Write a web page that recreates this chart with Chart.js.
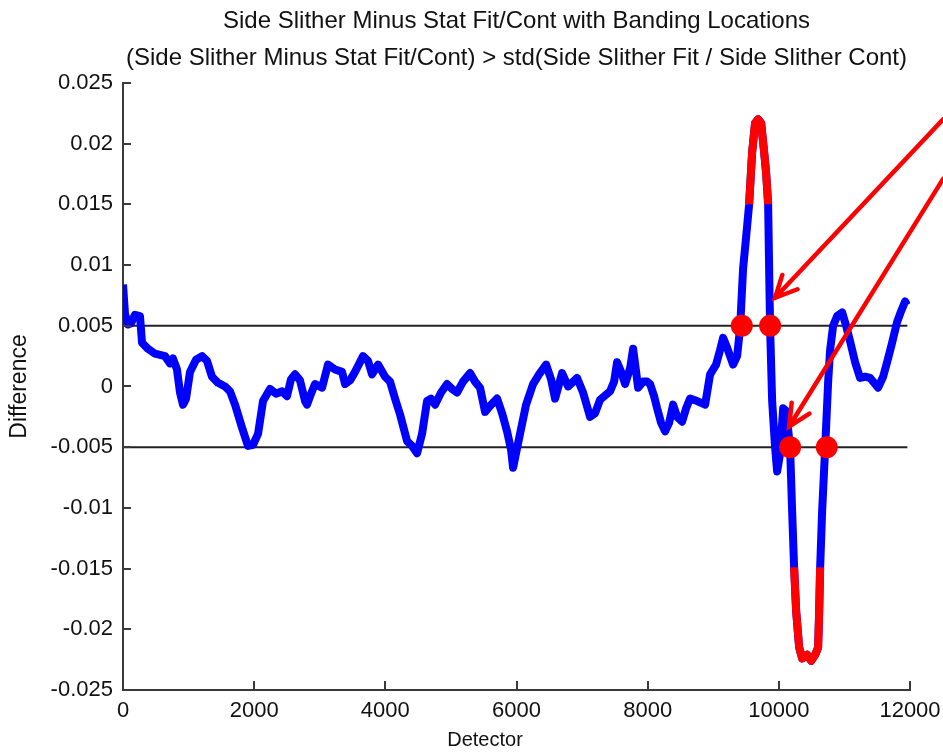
<!DOCTYPE html>
<html>
<head>
<meta charset="utf-8">
<script src="https://cdn.jsdelivr.net/npm/chart.js@4/dist/chart.umd.min.js"></script>
<style>
html, body { margin: 0; padding: 0; background: #fff; }
</style>
</head>
<body>
<canvas id="myChart" width="943" height="752"></canvas>
<script>
// values
const detector = [0, 30, 76, 122, 183, 259, 290, 381, 488, 640, 717, 762, 823, 869, 915, 961, 1022, 1113, 1205, 1281,
  1357, 1449, 1555, 1632, 1708, 1815, 1906, 1983, 2059, 2135, 2242, 2333, 2425, 2501, 2562, 2623, 2699, 2776, 2806, 2867,
  2928, 3035, 3126, 3233, 3340, 3386, 3462, 3538, 3660, 3736, 3797, 3889, 3996, 4072, 4148, 4224, 4331, 4407, 4484, 4560,
  4636, 4697, 4758, 4850, 4941, 5017, 5094, 5185, 5292, 5368, 5444, 5521, 5597, 5704, 5780, 5856, 5917, 5948, 5993, 6054,
  6146, 6253, 6344, 6451, 6527, 6588, 6695, 6786, 6924, 7015, 7122, 7198, 7274, 7427, 7488, 7534, 7610, 7656, 7732, 7778,
  7824, 7854, 7930, 7991, 8037, 8098, 8144, 8205, 8266, 8327, 8388, 8449, 8525, 8586, 8647, 8754, 8876, 8952, 9043, 9104,
  9150, 9211, 9303, 9364, 9409, 9455, 9501, 9547, 9593, 9638, 9684, 9730, 9776, 9806, 9837, 9852, 9867, 9898, 9943,
  9974, 10020, 10066, 10112, 10172, 10203, 10233, 10264, 10310, 10356, 10432, 10493, 10554, 10599, 10615, 10630, 10660, 10706, 10752, 10782, 10828,
  10889, 10965, 11026, 11087, 11163, 11239, 11316, 11392, 11468, 11514, 11590, 11651, 11727, 11803, 11864, 11925, 11956];
const difference = [0.0084, 0.006, 0.0051, 0.0052, 0.0059, 0.0058, 0.0036, 0.0031, 0.0027, 0.0025, 0.0019, 0.0023, 0.0014, -0.0005, -0.0015, -0.001, 0.0012, 0.0022, 0.0025, 0.0021,
  0.0008, 0.0003, 0.0, -0.0004, -0.0015, -0.0034, -0.0049, -0.0048, -0.0039, -0.0012, -0.0002, -0.0006, -0.0004, -0.0008, 0.0006, 0.001, 0.0005, -0.0012, -0.0015, -0.0006,
  0.0002, -0.0001, 0.0018, 0.0014, 0.0012, 0.0002, 0.0005, 0.0012, 0.0025, 0.0021, 0.001, 0.0018, 0.0008, 0.0004, -0.001, -0.0023, -0.0045, -0.0049, -0.0055, -0.0039,
  -0.0012, -0.001, -0.0015, -0.0005, 0.0002, -0.0002, -0.0005, 0.0004, 0.0011, 0.0004, -0.0001, -0.0021, -0.0016, -0.001, -0.0022, -0.0037, -0.0052, -0.0067, -0.0055, -0.0039,
  -0.0015, 0.0002, 0.001, 0.0018, 0.0006, -0.001, 0.0011, 0.0, 0.0007, -0.0005, -0.0025, -0.0022, -0.0011, -0.0004, 0.0004, 0.002, 0.001, 0.0002, 0.0015, 0.0031,
  0.0012, -0.0001, 0.0004, 0.0004, 0.0002, -0.0008, -0.0018, -0.003, -0.0037, -0.003, -0.0015, -0.0025, -0.0029, -0.0018, -0.001, -0.0012, -0.0015, 0.001, 0.0018, 0.003,
  0.004, 0.0032, 0.0018, 0.0025, 0.0048, 0.0097, 0.0123, 0.015, 0.0193, 0.0217, 0.022, 0.0217, 0.0193, 0.0176, 0.015, 0.0097, 0.0048, -0.0012, -0.005,
  -0.007, -0.0055, -0.0018, -0.002, -0.0051, -0.0103, -0.0149, -0.0185, -0.0215, -0.0224, -0.0221, -0.0226, -0.0221, -0.0215, -0.0185, -0.0149, -0.0103, -0.0051, 0.0004, 0.003, 0.005,
  0.0058, 0.0061, 0.005, 0.0037, 0.002, 0.0007, 0.0008, 0.0007, 0.0002, -0.0001, 0.0008, 0.002, 0.0036, 0.0053, 0.0062, 0.007, 0.0067];

const stdLimit = 0.005;
const bandLimit = 0.0149;
const lineEnd = 11960;

const bandX = [9435, 9867, 10172, 10731];
const bandY = [0.005, 0.005, -0.005, -0.005];

const arrowTipX = [9943, 10157];
const arrowTipY = [0.0073, -0.0033];
const arrowTailX = [12505, 12505];
const arrowTailY = [0.022, 0.0171];

const xTicks = [0, 2000, 4000, 6000, 8000, 10000, 12000];
const yTicks = [-0.025, -0.02, -0.015, -0.01, -0.005, 0, 0.005, 0.01, 0.015, 0.02, 0.025];
const yTickLabels = ['-0.025', '-0.02', '-0.015', '-0.01', '-0.005', '0', '0.005', '0.01', '0.015', '0.02', '0.025'];

const titleLines = ['Side Slither Minus Stat Fit/Cont with Banding Locations',
  '(Side Slither Minus Stat Fit/Cont) > std(Side Slither Fit / Side Slither Cont)'];
const xLabel = 'Detector';
const xLabelAt = 5520;   // where the reference centres its x label

const FONT = "'Liberation Sans', Arial, sans-serif";

var mainPts = detector.map((d, i) => ({x: d, y: difference[i]}));
var redPts = detector.map((d, i) => ({x: d, y: Math.abs(difference[i]) >= bandLimit ? difference[i] : null}));
var dotPts = bandX.map((d, i) => ({x: d, y: bandY[i]}));

// MATLAB style tick marks pointing into the plot, plus x label
const innerTicks = {
  id: 'innerTicks',
  afterDraw(chart) {
    const ctx = chart.ctx;
    const a = chart.chartArea;
    const xs = chart.scales.x, ys = chart.scales.y;
    ctx.save();
    ctx.strokeStyle = '#3a3a3a';
    ctx.lineWidth = 2;
    ctx.beginPath();
    xTicks.forEach(t => {
      const px = Math.round(xs.getPixelForValue(t));
      ctx.moveTo(px, a.bottom);
      ctx.lineTo(px, a.bottom - 9);
    });
    yTicks.forEach(t => {
      const py = Math.round(ys.getPixelForValue(t));
      ctx.moveTo(a.left, py);
      ctx.lineTo(a.left + 8, py);
    });
    ctx.stroke();

    ctx.fillStyle = '#111';
    ctx.font = '20px ' + FONT;
    ctx.textAlign = 'center';
    ctx.textBaseline = 'middle';
    ctx.fillText(xLabel, xs.getPixelForValue(xLabelAt), 740);
    ctx.restore();
  }
};

// red annotation arrows
const arrows = {
  id: 'arrows',
  afterDraw(chart) {
    const ctx = chart.ctx;
    const xs = chart.scales.x, ys = chart.scales.y;
    ctx.save();
    ctx.strokeStyle = '#ff0000';
    ctx.lineWidth = 4.5;
    ctx.lineCap = 'round';
    for (let i = 0; i < arrowTipX.length; i++) {
      const x1 = xs.getPixelForValue(arrowTailX[i]), y1 = ys.getPixelForValue(arrowTailY[i]);
      const x2 = xs.getPixelForValue(arrowTipX[i]), y2 = ys.getPixelForValue(arrowTipY[i]);
      const ang = Math.atan2(y2 - y1, x2 - x1);
      const head = 24;
      ctx.beginPath();
      ctx.moveTo(x1, y1);
      ctx.lineTo(x2, y2);
      ctx.moveTo(x2 - head * Math.cos(ang - 0.45), y2 - head * Math.sin(ang - 0.45));
      ctx.lineTo(x2, y2);
      ctx.lineTo(x2 - head * Math.cos(ang + 0.45), y2 - head * Math.sin(ang + 0.45));
      ctx.stroke();
    }
    ctx.restore();
  }
};

var ctx = document.getElementById('myChart').getContext('2d');
var chart = new Chart(ctx, {
  type: 'line',
  data: {
    datasets: [
      {
        label: 'band',
        type: 'scatter',
        data: dotPts,
        pointRadius: 11,
        pointBackgroundColor: '#ff0000',
        pointBorderWidth: 0,
        order: 0
      },
      {
        label: 'over',
        data: redPts,
        borderColor: '#ff0000',
        borderWidth: 8,
        borderJoinStyle: 'round',
        pointRadius: 0,
        spanGaps: false,
        order: 1
      },
      {
        label: 'difference',
        data: mainPts,
        borderColor: '#0000ff',
        borderWidth: 8,
        borderJoinStyle: 'round',
        pointRadius: 0,
        order: 2
      },
      {
        label: 'upper',
        data: [{x: 0, y: stdLimit}, {x: lineEnd, y: stdLimit}],
        borderColor: '#222222',
        borderWidth: 2,
        pointRadius: 0,
        order: 3
      },
      {
        label: 'lower',
        data: [{x: 0, y: -stdLimit}, {x: lineEnd, y: -stdLimit}],
        borderColor: '#222222',
        borderWidth: 2,
        pointRadius: 0,
        order: 3
      }
    ]
  },
  options: {
    responsive: false,
    animation: false,
    layout: { padding: { left: 0, right: 33, top: 0, bottom: 0 } },
    plugins: {
      legend: { display: false },
      tooltip: { enabled: false },
      title: {
        display: true,
        fullSize: false,
        text: titleLines,
        color: '#111',
        font: { family: FONT, size: 24, weight: 'normal', lineHeight: 1.54 },
        padding: { top: 3, bottom: 6 }
      }
    },
    scales: {
      x: {
        type: 'linear',
        min: 0,
        max: 12000,
        afterBuildTicks: s => { s.ticks = xTicks.map(v => ({value: v})); },
        afterFit: s => { s.height = 62; s.paddingLeft = 0; s.paddingRight = 0; },
        grid: { display: false, drawTicks: false },
        border: { display: true, color: '#3a3a3a', width: 2 },
        ticks: {
          color: '#111',
          padding: 8,
          maxRotation: 0,
          font: { family: FONT, size: 22 },
          callback: v => String(v)
        }
      },
      y: {
        type: 'linear',
        min: -0.025,
        max: 0.025,
        afterBuildTicks: s => { s.ticks = yTicks.map(v => ({value: v})); },
        afterFit: s => { s.width = 123; s.paddingTop = 0; s.paddingBottom = 0; },
        grid: { display: false, drawTicks: false },
        border: { display: true, color: '#3a3a3a', width: 2 },
        ticks: {
          color: '#111',
          padding: 10,
          font: { family: FONT, size: 22 },
          callback: (v, i) => yTickLabels[i]
        },
        title: {
          display: true,
          text: 'Difference',
          color: '#111',
          font: { family: FONT, size: 23 },
          padding: 6
        }
      }
    }
  },
  plugins: [innerTicks, arrows]
});
</script>
</body>
</html>
